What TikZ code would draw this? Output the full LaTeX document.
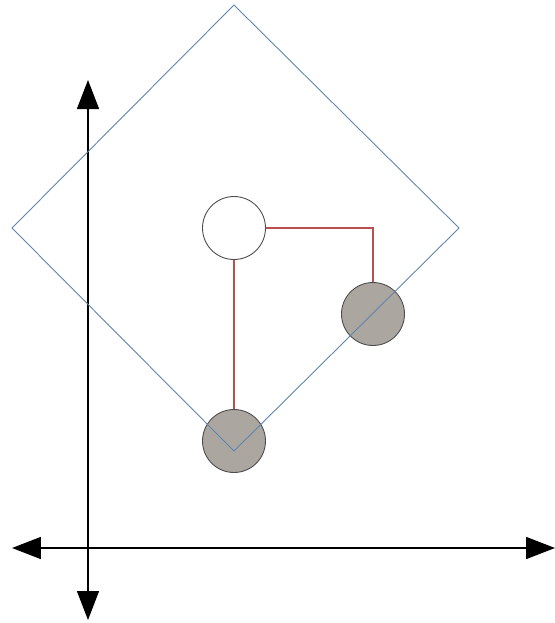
\documentclass[tikz,border=0pt]{standalone}
\usetikzlibrary{arrows.meta}
\definecolor{linkred}{RGB}{184,80,80}
\definecolor{stonegray}{RGB}{172,166,160}
\definecolor{fieldblue}{RGB}{92,132,172}

\begin{document}
\begin{tikzpicture}[x=0.02cm,y=-0.02cm,
  ball/.style={circle,draw=black!70,line width=0.5pt,fill=#1,minimum size=1.26cm,inner sep=0pt},
  ball/.default=white,
  link/.style={draw=linkred,line width=0.7pt},
  field/.style={draw=fieldblue,line width=0.5pt},
  axis/.style={line width=1pt,{Triangle[width=0.44cm,length=0.58cm]}-{Triangle[width=0.44cm,length=0.58cm]}}]
\useasboundingbox (0,0) rectangle (555,623);
% axes
\coordinate (yup) at (88,80);
\coordinate (ydown) at (88,620);
\coordinate (xleft) at (12,548);
\coordinate (xright) at (555,548);
\draw[axis,line width=0.8pt] (yup) -- (ydown);
\draw[axis] (xleft) -- (xright);
% players
\node[ball] (home) at (234,228) {};
\node[ball=stonegray] (first) at (373,314) {};
\node[ball=stonegray] (second) at (234,441) {};
\draw[link] (home) -| (first);
\draw[link] (home) -- (second);
% field
\coordinate (top) at (234,5);
\coordinate (right) at (459,228);
\coordinate (bottom) at (234,451);
\coordinate (left) at (12,228);
\draw[field] (top) -- (right) -- (bottom) -- (left) -- cycle;
\end{tikzpicture}
\end{document}
